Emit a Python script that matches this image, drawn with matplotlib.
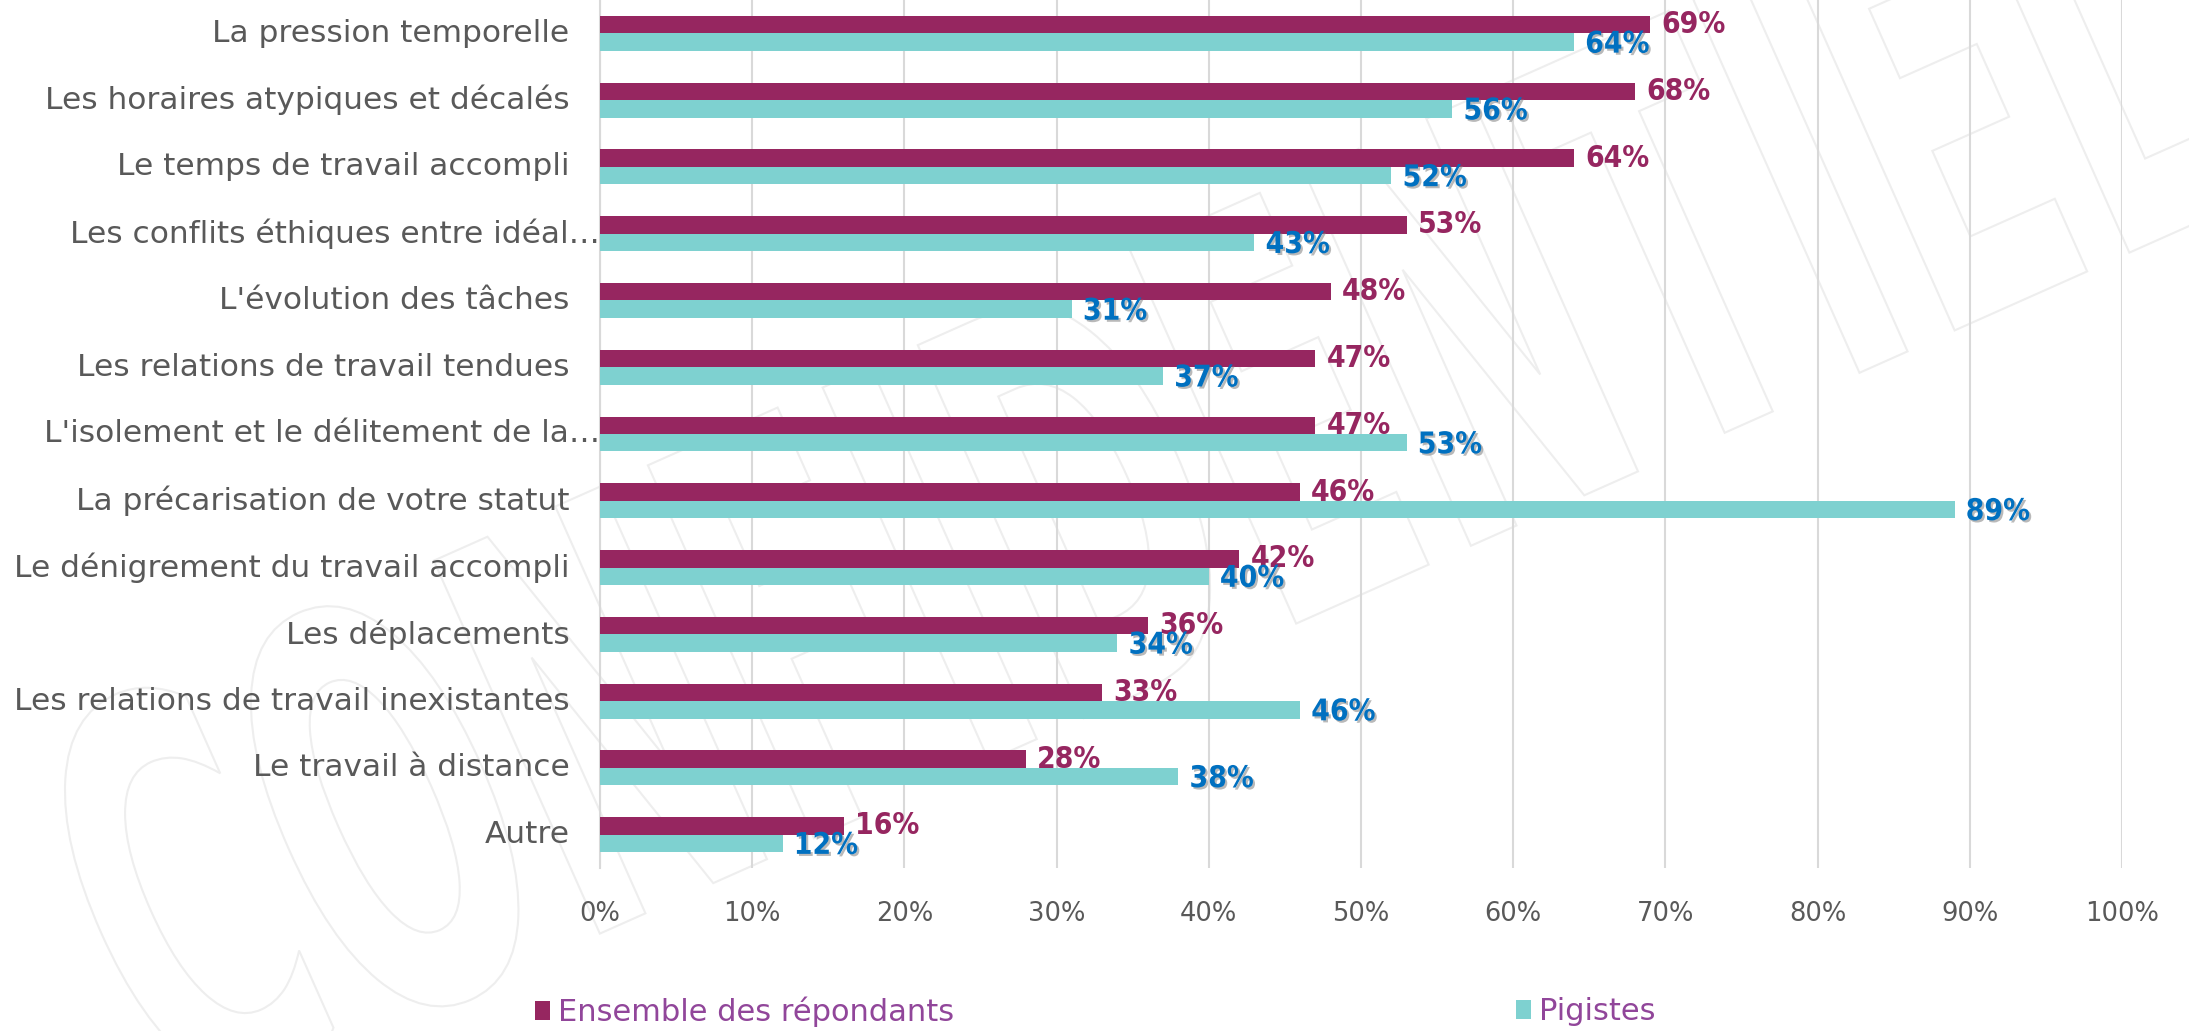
import matplotlib
matplotlib.use("Agg")
import matplotlib.pyplot as plt
import matplotlib.patheffects as pe
from matplotlib import font_manager
from matplotlib.font_manager import FontProperties
from matplotlib.patches import Patch, PathPatch
from matplotlib.textpath import TextPath
from matplotlib.transforms import Affine2D
from matplotlib.ticker import FuncFormatter
import numpy as np

# ---- data -------------------------------------------------------------
categories = [
    "La pression temporelle",
    "Les horaires atypiques et décalés",
    "Le temps de travail accompli",
    "Les conflits éthiques entre idéal…",
    "L'évolution des tâches",
    "Les relations de travail tendues",
    "L'isolement et le délitement de la…",
    "La précarisation de votre statut",
    "Le dénigrement du travail accompli",
    "Les déplacements",
    "Les relations de travail inexistantes",
    "Le travail à distance",
    "Autre",
]
ensemble = [69, 68, 64, 53, 48, 47, 47, 46, 42, 36, 33, 28, 16]
pigistes = [64, 56, 52, 43, 31, 37, 53, 89, 40, 34, 46, 38, 12]
series_names = ["Ensemble des répondants", "Pigistes"]
x_ticks = [0, 10, 20, 30, 40, 50, 60, 70, 80, 90, 100]
watermark = "CONFIDENTIEL"

# ---- style ------------------------------------------------------------
MAROON = "#962660"
TEAL = "#7ED1D0"
BLUE = "#0070C0"
GREY_TXT = "#595959"
GRID = "#D9D9D9"
LEGEND_TXT = "#91469A"

available = {f.name for f in font_manager.fontManager.ttflist}
if "Liberation Sans Narrow" in available:
    lab_font = dict(family="Liberation Sans Narrow", fontweight="bold", fontsize=24)
else:
    lab_font = dict(family="DejaVu Sans", fontweight="bold", fontstretch="condensed", fontsize=21.5)

W, H, DPI = 2189, 1031, 100
fig = plt.figure(figsize=(W / DPI, H / DPI), dpi=DPI)
fig.patch.set_facecolor("white")

# faint outlined watermark behind the chart (tall, narrow lettering)
tp = TextPath((0, 0), watermark, size=1,
              prop=FontProperties(family="DejaVu Sans", weight="bold"))
ext = tp.get_extents()
wm_tr = (Affine2D()
         .translate(-(ext.x0 + ext.x1) / 2, -(ext.y0 + ext.y1) / 2)
         .scale(280, 560)
         .rotate_deg(24)
         .translate(1140, H - 470))
wm = PathPatch(tp, transform=wm_tr, facecolor="none", edgecolor="#EEEEEE",
               linewidth=1.5, zorder=-5)
fig.add_artist(wm)

ax = fig.add_axes([600 / W, 1 - 868 / H, (2122 - 600) / W, 868 / H])
ax.set_facecolor("none")

y = np.arange(len(categories))
h = 0.262
ax.barh(y - h / 2, ensemble, height=h, color=MAROON, zorder=3)
ax.barh(y + h / 2, pigistes, height=h, color=TEAL, zorder=3)

ax.set_xlim(0, 100)
ax.set_ylim(len(categories) - 0.5, -0.5)

# value labels
for yi, v in zip(y, ensemble):
    ax.annotate(f"{v}%", xy=(v, yi - h / 2), xytext=(8, 0), textcoords="offset points",
                ha="left", va="center", color=MAROON, zorder=5, **lab_font)
for yi, v in zip(y, pigistes):
    ax.annotate(f"{v}%", xy=(v, yi + h / 2 + 0.03), xytext=(8, 0), textcoords="offset points",
                ha="left", va="center", color=BLUE, zorder=6,
                path_effects=[pe.SimplePatchShadow(offset=(1.5, -1.5), shadow_rgbFace="#808080", alpha=0.55),
                              pe.Normal()],
                **lab_font)

# category labels (truncated ones run up to the axis)
ax.set_yticks([])
for yi, lab in zip(y, categories):
    pad = 0 if lab.endswith("…") else 22
    ax.annotate(lab, xy=(0, yi), xycoords=("axes fraction", "data"),
                xytext=(-pad, 0), textcoords="offset points",
                ha="right", va="center", fontsize=22.5, color=GREY_TXT,
                family="DejaVu Sans", annotation_clip=False)

ax.set_xticks(x_ticks)
ax.xaxis.set_major_formatter(FuncFormatter(lambda v, p: f"{v:.0f}%"))
ax.tick_params(axis="x", length=0, pad=24, labelsize=18.5, labelcolor=GREY_TXT)
ax.grid(axis="x", color=GRID, linewidth=1.5, zorder=0)
ax.set_axisbelow(True)
for s in ["top", "right", "bottom"]:
    ax.spines[s].set_visible(False)
ax.spines["left"].set_color(GRID)
ax.spines["left"].set_linewidth(1.5)

# legend: one entry at each position
for name, col, xpos in [(series_names[0], MAROON, 535 / W), (series_names[1], TEAL, 1516 / W)]:
    leg = fig.legend(handles=[Patch(facecolor=col, edgecolor="none", label=name)],
                     loc="center left", bbox_to_anchor=(xpos, 1 - 1012 / H),
                     frameon=False, fontsize=22, handlelength=0.5, handleheight=0.6,
                     handletextpad=0.25, borderpad=0, borderaxespad=0)
    for t in leg.get_texts():
        t.set_color(LEGEND_TXT)

fig.savefig("out.png", dpi=DPI, facecolor="white")
